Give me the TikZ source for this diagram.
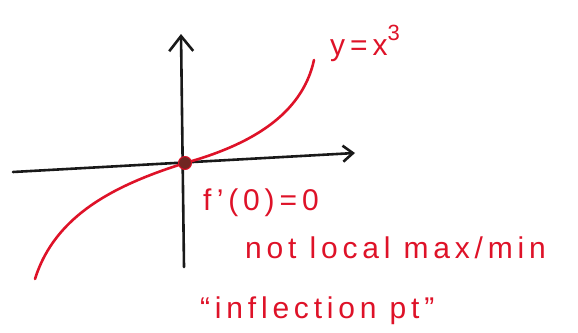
\documentclass[tikz,border=0pt]{standalone}
\usepackage{fontspec}
\usetikzlibrary{arrows.meta,positioning}
\newfontfamily\handfont[LetterSpace=16]{Liberation Sans}
\definecolor{penred}{RGB}{222,18,40}
\definecolor{dotbrown}{RGB}{112,38,34}
\tikzset{
  axis/.style={line width=2.6pt,line cap=round,black!90},
  graphline/.style={line width=2.6pt,line cap=round,penred},
  crossdot/.style={circle,fill=dotbrown,draw=penred,line width=1pt,minimum size=13pt,inner sep=0pt},
  note/.style={anchor=base west,inner sep=0pt,text=penred,font=\handfont\fontsize{30}{34}\selectfont}
}
\begin{document}
\begin{tikzpicture}[x=1pt,y=-1pt]
\useasboundingbox (0,0) rectangle (578,332);

% axes
\coordinate (xleft) at (13,172);
\coordinate (xright) at (355,153);
\coordinate (ybottom) at (184,267);
\coordinate (ytop) at (181,34);
\draw[axis,-{Straight Barb[length=10pt,width=16pt]}] (xleft) -- (xright);
\draw[axis,-{Straight Barb[length=15pt,width=24pt]}] (ybottom) -- (ytop);

% y = x^3
\coordinate (curvestart) at (35,279);
\coordinate (zero) at (185,163);
\coordinate (curveend) at (314,60);
\draw[graphline] (curvestart) .. controls (55,215) and (115,185) .. (zero)
  .. controls (250,145) and (302,115) .. (curveend);
\node[crossdot] (origin) at (zero) {};

% labels
\node[note] (curvename) at (330,55) {y\,=\,x\raisebox{15pt}{\fontsize{22}{24}\selectfont 3}};
\node[note] (slope) at (203,210) {f’(0)\,=\,0};
\node[note] (notext) at (245,258) {not local max/min};
\node[note] (inflect) at (200,318) {“inflection pt”};

\end{tikzpicture}
\end{document}
